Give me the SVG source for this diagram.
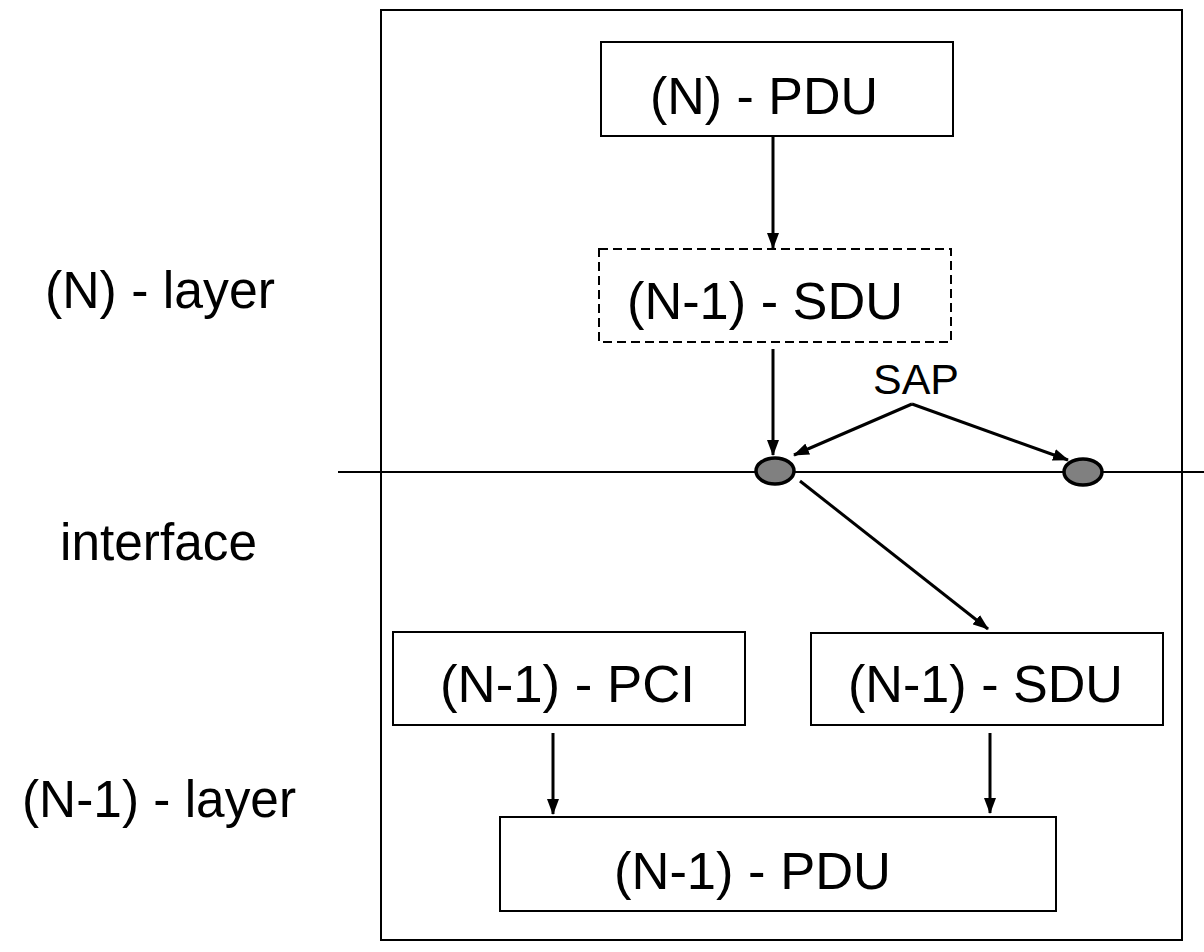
<svg xmlns="http://www.w3.org/2000/svg" width="1204" height="952" viewBox="0 0 1204 952">
  <style>
    .box { fill: #ffffff; stroke: #000000; stroke-width: 2; }
    .dash { fill: #ffffff; stroke: #000000; stroke-width: 2; stroke-dasharray: 9 5; }
    .lbl { font-family: "Liberation Sans", Arial, Helvetica, sans-serif; font-size: 51px; fill: #000000; }
    .sap { font-family: "Liberation Sans", Arial, Helvetica, sans-serif; font-size: 43px; fill: #000000; }
    .edge { stroke: #000000; stroke-width: 3; fill: none; marker-end: url(#head); }
    .rule { stroke: #000000; stroke-width: 2; fill: none; }
    .sapdot { fill: #808080; stroke: #000000; stroke-width: 3.5; }
  </style>
  <defs>
    <marker id="head" markerUnits="userSpaceOnUse" markerWidth="16" markerHeight="12" refX="15" refY="6" orient="auto">
      <path d="M0,0 L16,6 L0,12 Z" fill="#000000"/>
    </marker>
  </defs>

  <rect width="1204" height="952" fill="#ffffff"/>

  <!-- layer frame and interface line -->
  <g id="frame">
    <rect x="381" y="10" width="801" height="930" class="rule"/>
    <line x1="338" y1="472" x2="1204" y2="472" class="rule"/>
  </g>

  <!-- side labels -->
  <g id="side-labels">
    <text x="45" y="308" class="lbl" textLength="230" lengthAdjust="spacingAndGlyphs">(N) - layer</text>
    <text x="60" y="560" class="lbl" textLength="197" lengthAdjust="spacingAndGlyphs">interface</text>
    <text x="22" y="817" class="lbl" textLength="274" lengthAdjust="spacingAndGlyphs">(N-1) - layer</text>
  </g>

  <g id="n-pdu">
    <rect x="601" y="42" width="352" height="94" class="box"/>
    <text x="650" y="114" class="lbl" textLength="228" lengthAdjust="spacingAndGlyphs">(N) - PDU</text>
  </g>

  <g id="n1-sdu-upper">
    <rect x="599" y="249" width="352" height="93" class="dash"/>
    <text x="627" y="319" class="lbl" textLength="276" lengthAdjust="spacingAndGlyphs">(N-1) - SDU</text>
  </g>

  <g id="sap">
    <text x="916" y="394" class="sap" text-anchor="middle">SAP</text>
  </g>

  <g id="sap-left">
    <ellipse cx="775" cy="471" rx="19" ry="13" class="sapdot"/>
  </g>
  <g id="sap-right">
    <ellipse cx="1083" cy="472" rx="19" ry="13" class="sapdot"/>
  </g>

  <g id="n1-pci">
    <rect x="393" y="632" width="352" height="93" class="box"/>
    <text x="440" y="702" class="lbl" textLength="255" lengthAdjust="spacingAndGlyphs">(N-1) - PCI</text>
  </g>

  <g id="n1-sdu-lower">
    <rect x="811" y="633" width="352" height="92" class="box"/>
    <text x="848" y="702" class="lbl" textLength="275" lengthAdjust="spacingAndGlyphs">(N-1) - SDU</text>
  </g>

  <g id="n1-pdu">
    <rect x="500" y="817" width="556" height="94" class="box"/>
    <text x="614" y="889" class="lbl" textLength="277" lengthAdjust="spacingAndGlyphs">(N-1) - PDU</text>
  </g>

  <!-- connectors -->
  <g id="connectors">
    <line x1="773" y1="136" x2="773" y2="248" class="edge"/>
    <line x1="773" y1="349" x2="773" y2="455" class="edge"/>
    <line x1="912" y1="404" x2="794" y2="455" class="edge"/>
    <line x1="912" y1="404" x2="1068" y2="460" class="edge"/>
    <line x1="800" y1="481" x2="988" y2="629" class="edge"/>
    <line x1="553" y1="733" x2="553" y2="814" class="edge"/>
    <line x1="990" y1="733" x2="990" y2="813" class="edge"/>
  </g>
</svg>
